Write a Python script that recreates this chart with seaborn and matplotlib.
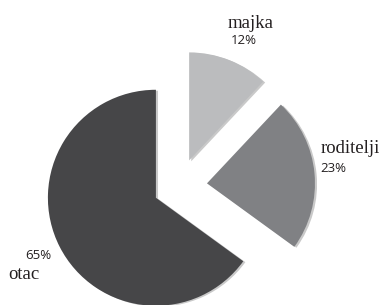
import numpy as np
import matplotlib
matplotlib.use("Agg")
import matplotlib.pyplot as plt
import seaborn as sns

sns.set_theme(style="white")

# data (counter-clockwise from the top)
labels = ["otac", "roditelji", "majka"]
shares = [65, 23, 12]
colors = ["#464648", "#808184", "#bbbcbe"]
explode = [0.24, 0.26, 0.255]

# label placement (data units, pie radius = 1)
name_pos = {"otac": (-1.58, -0.86, "left"), "roditelji": (1.31, 0.31, "left"), "majka": (0.66, 1.46, "center")}
pct_pos = {"otac": (-1.30, -0.64, "center"), "roditelji": (1.31, 0.16, "left"), "majka": (0.60, 1.35, "center")}

fig = plt.figure(figsize=(3.83, 3.05), dpi=100)
ax = fig.add_axes([0, 0, 1, 1])

ax.pie(shares, colors=colors, explode=explode, startangle=90, counterclock=True,
       wedgeprops={"linewidth": 0},
       shadow={"ox": 0.014, "oy": -0.006, "facecolor": "#c9c9c9", "edgecolor": "none", "alpha": 1})

for lab, val in zip(labels, shares):
    x, y, ha = name_pos[lab]
    ax.text(x, y, lab, ha=ha, va="baseline", fontsize=13.5,
            family=["Liberation Serif", "DejaVu Serif"], color="#231f20")
    x, y, ha = pct_pos[lab]
    ax.text(x, y, f"{val}%", ha=ha, va="center", fontsize=9.5,
            family=["Open Sans", "DejaVu Sans"], color="#231f20")

ax.set_xlim(-179 / 108, (383 - 179) / 108)
ax.set_ylim((186 - 305) / 108, 186 / 108)
ax.set_aspect("equal")
ax.axis("off")

fig.savefig("out.png", dpi=100)
